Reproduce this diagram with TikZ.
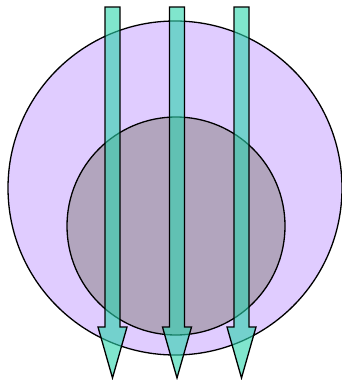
\documentclass[tikz,border=0pt]{standalone}
\usepackage{xcolor}
\usepackage{tikz}
\usetikzlibrary{positioning, calc}

\definecolor{outerfill}{RGB}{224,204,255}
\definecolor{innerfill}{RGB}{178,165,190}
\definecolor{arrowfill}{RGB}{43,213,172}

\begin{document}
\begin{tikzpicture}[
          x=1pt, y=-1pt,
          disk/.style={circle, draw=black, line width=1.3pt, inner sep=0pt},
          downarrow/.style={draw=black, line width=1.3pt, fill=arrowfill, fill opacity=0.6, line join=miter}
        ]
          \useasboundingbox (0,0) rectangle (342,380);
          \node[disk, fill=outerfill, minimum size=334pt] (outer) at (175,188) {};
          \node[disk, fill=innerfill, minimum size=218pt] (inner) at (176,226) {};
          % three arrows
          \foreach \name/\ax in {left/112.5, mid/177, right/241.5} {
            \coordinate (\name top) at (\ax,7);
            \coordinate (\name tip) at (\ax,378);
            \draw[downarrow] ($(\name top)+(-7.5,0)$) -- ($(\name top)+(7.5,0)$)
              -- ($(\name tip)+(7.5,-51)$) -- ($(\name tip)+(14.5,-51)$)
              -- (\name tip) -- ($(\name tip)+(-14.5,-51)$)
              -- ($(\name tip)+(-7.5,-51)$) -- cycle;
          }
        \end{tikzpicture}
\end{document}
